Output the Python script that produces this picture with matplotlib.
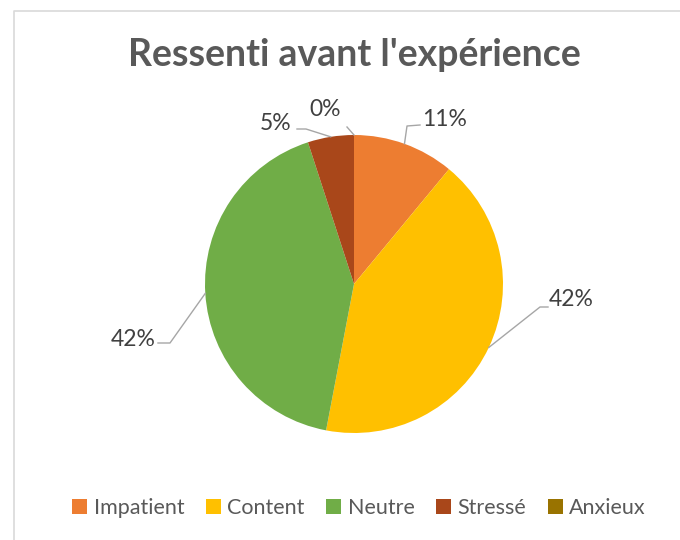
import matplotlib
matplotlib.use("Agg")
import matplotlib.pyplot as plt
import numpy as np

plt.rcParams['font.family'] = ['Lato', 'DejaVu Sans']

# data
categories = ["Impatient", "Content", "Neutre", "Stressé", "Anxieux"]
shares = [11, 42, 42, 5, 0]
colors = ["#ED7D31", "#FFC000", "#70AD47", "#A9471A", "#997300"]

W, H = 680, 540
fig = plt.figure(figsize=(W / 100, H / 100), dpi=100)
ax = fig.add_axes([0, 0, 1, 1])

# pixel coordinates, y up
cx, cy, r = 354, H - 284, 149
wedges, _ = ax.pie(shares, colors=colors, startangle=90, counterclock=False,
                   center=(cx, cy), radius=r, frame=True,
                   wedgeprops=dict(linewidth=0))
ax.set_xlim(0, W)
ax.set_ylim(0, H)
ax.set_aspect('equal')
ax.set_axis_off()

# chart frame (only top and left edges fall inside the image)
ax.plot([13.5, 13.5, W + 5], [-5, H - 10.5, H - 10.5], color="#d9d9d9", lw=1.2,
        clip_on=False)

ax.text(cx, H - 55, "Ressenti avant l'expérience", ha="center", va="center",
        fontsize=27, fontweight="bold", color="#595959")

# data labels with leader lines: text centre, elbow, start of line near text
label_pos = [(445, 120), (571, 300), (133, 340), (276, 124), (325, 110)]
elbows = [[(420, 125), (407, 126)],
          [(548, 307), (540, 307)],
          [(158, 343), (170, 343)],
          [(297, 129), (306, 129)],
          [(347, 127)]]

cum = np.cumsum([0] + shares[:-1])
for i, v in enumerate(shares):
    mid = np.deg2rad(90 - (cum[i] + v / 2) * 3.6)
    ex, ey = cx + r * np.cos(mid), cy + r * np.sin(mid)
    pts = [(x, H - y) for x, y in elbows[i]] + [(ex, ey)]
    ax.plot([p[0] for p in pts], [p[1] for p in pts], color="#a6a6a6", lw=1)
    tx, ty = label_pos[i]
    ax.text(tx, H - ty, f"{v}%", ha="center", va="center", fontsize=16.5,
            color="#404040")

fig.legend(wedges, categories, loc="center", bbox_to_anchor=(359 / W, 1 - 508 / H),
           ncol=5, frameon=False, fontsize=15.5, handlelength=0.7, handleheight=0.7,
           handletextpad=0.3, columnspacing=1.0, labelcolor="#595959")

fig.savefig("out.png", dpi=100, facecolor="white")
